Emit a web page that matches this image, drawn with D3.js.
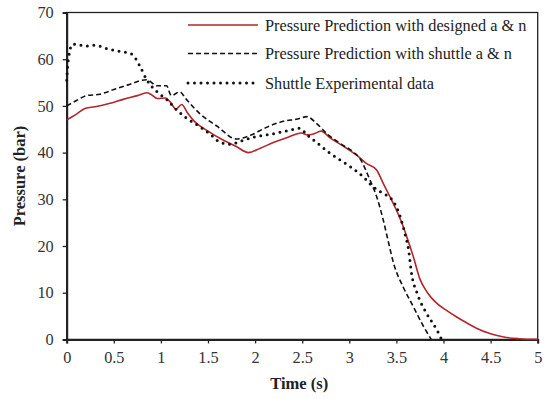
<!DOCTYPE html>
<html>
<head>
<meta charset="utf-8">
<script src="https://cdn.jsdelivr.net/npm/d3@7"></script>
<style>
  html, body { margin: 0; padding: 0; background: #fff; }
  svg { display: block; }
</style>
</head>
<body>
<svg id="chart" width="547" height="399"></svg>
<script>
// Time axis (s) and pressure axis (bar) ticks
const xTicks = [0, 0.5, 1, 1.5, 2, 2.5, 3, 3.5, 4, 4.5, 5];
const xTickLabels = ["0", "0.5", "1", "1.5", "2", "2.5", "3", "3.5", "4", "4.5", "5"];
const yTicks = [0, 10, 20, 30, 40, 50, 60, 70];

const seriesNames = [
  "Pressure Prediction with designed a & n",
  "Pressure Prediction with shuttle a & n",
  "Shuttle Experimental data"
];

// Pressure prediction, designed a & n: [time, pressure]
const designed = [
  [0, 47], [0.1, 48.2], [0.2, 49.5], [0.3, 49.8], [0.45, 50.5], [0.6, 51.4],
  [0.75, 52.2], [0.85, 52.8], [0.9, 52.4], [0.96, 51.6], [1.05, 51.7],
  [1.1, 50.8], [1.16, 49.3], [1.22, 50.3], [1.28, 48.6], [1.35, 46.8],
  [1.5, 44.6], [1.65, 42.8], [1.8, 41.3], [1.93, 40], [2.05, 40.9],
  [2.2, 42.2], [2.35, 43.3], [2.49, 44.2], [2.56, 43.8], [2.62, 44], [2.7, 44.6],
  [2.8, 43.1], [2.95, 41.2], [3.1, 39.1], [3.18, 37.7], [3.29, 36.3],
  [3.36, 33.4], [3.43, 30.6], [3.5, 27.7], [3.56, 24.8], [3.61, 22],
  [3.68, 17.7], [3.75, 12.9], [3.83, 10], [3.93, 7.7], [4.04, 6.1],
  [4.14, 4.8], [4.25, 3.5], [4.35, 2.4], [4.5, 1.2], [4.64, 0.5],
  [4.8, 0.15], [5, 0]
];

// Pressure prediction, shuttle a & n: [time, pressure]
const shuttlePred = [
  [0, 50], [0.1, 51.1], [0.21, 52.2], [0.35, 52.5], [0.5, 53.5], [0.65, 54.5],
  [0.85, 55.6], [0.96, 54.3], [1.06, 54.3], [1.11, 52.2], [1.2, 53],
  [1.27, 51.4], [1.41, 48.4], [1.6, 45.6], [1.8, 42.9], [1.95, 43.7],
  [2.12, 45.4], [2.3, 46.7], [2.45, 47.2], [2.55, 47.7], [2.65, 46.3],
  [2.76, 44.1], [2.9, 42], [3.05, 40], [3.11, 38.8], [3.22, 34.1],
  [3.29, 30.6], [3.36, 25.6], [3.41, 21.3], [3.47, 16.3], [3.57, 11.3],
  [3.68, 7], [3.79, 2.7], [3.87, 0]
];

// Shuttle experimental data: [time, pressure]
const experimental = [
  [0, 55.5], [0.01, 58.5], [0.03, 61.5], [0.06, 63.2], [0.1, 63.2],
  [0.2, 62.8], [0.3, 63], [0.42, 62.3], [0.55, 61.7], [0.68, 61.2],
  [0.73, 60.2], [0.78, 58.4], [0.85, 55.6], [0.96, 53], [1.06, 51.4],
  [1.17, 49.1], [1.27, 47.4], [1.41, 45.6], [1.52, 44], [1.63, 42.2],
  [1.75, 41.8], [1.84, 42.4], [2.0, 43.4], [2.16, 43.9], [2.37, 44.8],
  [2.48, 45.2], [2.55, 43.8], [2.62, 42.7], [2.8, 39.8], [3.01, 37],
  [3.15, 34.8], [3.25, 32.7], [3.33, 31.6], [3.47, 29.5], [3.54, 26.3],
  [3.59, 22.7], [3.63, 19.1], [3.66, 14.2], [3.72, 9.9], [3.82, 5.6],
  [3.93, 2], [3.98, 0]
];

const svg = d3.select("#chart");
const margin = { left: 66.7, right: 9.3, top: 12.5, bottom: 59.6 };
const width = 547 - margin.left - margin.right;
const height = 399 - margin.top - margin.bottom;

const x = d3.scaleLinear().domain([0, 5]).range([0, width]);
const y = d3.scaleLinear().domain([0, 70]).range([height, 0]);

const g = svg.append("g").attr("transform", `translate(${margin.left},${margin.top})`);

const font = "'Liberation Serif', 'Times New Roman', serif";

// Plot frame
g.append("rect")
  .attr("x", 0).attr("y", 0)
  .attr("width", width).attr("height", height)
  .attr("fill", "none").attr("stroke", "#222").attr("stroke-width", 1.3);

// Axes
const xAxis = g.append("g")
  .attr("transform", `translate(0,${height})`)
  .call(d3.axisBottom(x).tickValues(xTicks)
    .tickFormat((d, i) => xTickLabels[i]).tickSize(4).tickPadding(8));
const yAxis = g.append("g")
  .call(d3.axisLeft(y).tickValues(yTicks).tickSize(4).tickPadding(9));

[xAxis, yAxis].forEach(a => {
  a.select(".domain").attr("stroke", "#222").attr("stroke-width", 2);
  a.selectAll(".tick line").attr("stroke", "#222").attr("stroke-width", 1.3);
  a.selectAll(".tick text")
    .attr("fill", "#333")
    .style("font-family", font)
    .style("font-size", "16.3px");
});

// Axis titles
svg.append("text")
  .attr("x", margin.left + width / 2 - 3)
  .attr("y", 389)
  .attr("text-anchor", "middle")
  .style("font-family", font).style("font-size", "16.5px").style("font-weight", "bold")
  .attr("fill", "#222")
  .text("Time (s)");

svg.append("text")
  .attr("transform", `translate(25,176) rotate(-90)`)
  .attr("text-anchor", "middle")
  .style("font-family", font).style("font-size", "16.5px").style("font-weight", "bold")
  .attr("fill", "#222")
  .text("Pressure (bar)");

// Series lines
const line = d3.line()
  .x(d => x(d[0]))
  .y(d => y(d[1]))
  .curve(d3.curveMonotoneX);

const styles = [
  { data: designed, stroke: "#b3262b", width: 1.6, dash: null, cap: "butt" },
  { data: shuttlePred, stroke: "#111", width: 1.6, dash: "5,3", cap: "butt" },
  { data: experimental, stroke: "#111", width: 3, dash: "0,6.5", cap: "round" }
];

styles.forEach(s => {
  g.append("path")
    .datum(s.data)
    .attr("d", line)
    .attr("fill", "none")
    .attr("stroke", s.stroke)
    .attr("stroke-width", s.width)
    .attr("stroke-dasharray", s.dash)
    .attr("stroke-linecap", s.cap);
});

// Legend
const legend = svg.append("g");
const legendRows = [25, 53.5, 83];
styles.forEach((s, i) => {
  legend.append("line")
    .attr("x1", 188).attr("x2", 258)
    .attr("y1", legendRows[i]).attr("y2", legendRows[i])
    .attr("stroke", s.stroke)
    .attr("stroke-width", s.width)
    .attr("stroke-dasharray", s.dash)
    .attr("stroke-linecap", s.cap);
  legend.append("text")
    .attr("x", 265).attr("y", legendRows[i] + 5.5)
    .style("font-family", font).style("font-size", "16.3px")
    .attr("fill", "#222")
    .text(seriesNames[i]);
});
</script>
</body>
</html>
